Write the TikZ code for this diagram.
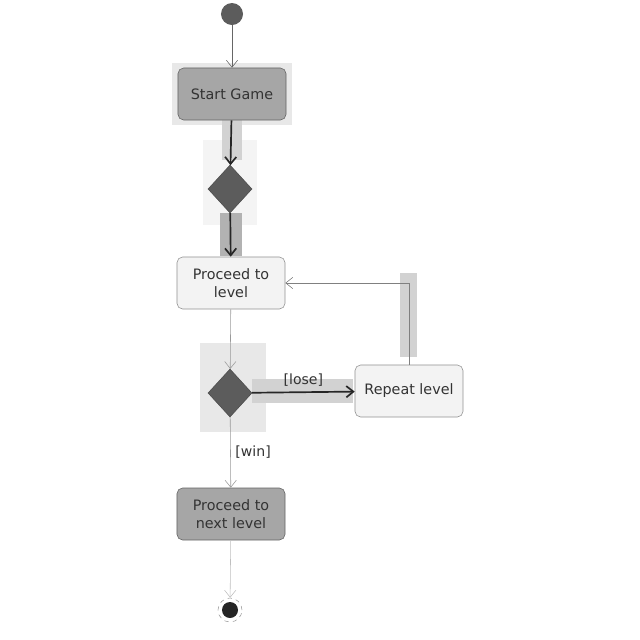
\documentclass[tikz,border=0pt]{standalone}
\usepackage{fontspec}
\setmainfont{DejaVu Sans}
\usetikzlibrary{shapes.geometric,arrows.meta}
\definecolor{actdark}{HTML}{A6A6A6}
\definecolor{actlight}{HTML}{F3F3F3}
\definecolor{decgray}{HTML}{5C5C5C}
\definecolor{hilite}{HTML}{D2D2D2}
\definecolor{hilitelt}{HTML}{E8E8E8}
\begin{document}
\begin{tikzpicture}[x=0.025cm, y=-0.025cm,
    action/.style={draw=#1!60!black, rounded corners=4pt, minimum width=2.7cm,
      minimum height=1.3cm, align=center, font=\fontsize{10.2}{12.5}\selectfont,
      text=black!80, fill=#1},
    decision/.style={diamond, draw=black!70, fill=decgray, inner sep=0pt,
      minimum width=1.1cm, minimum height=1.2cm},
    flow/.style={-{Straight Barb[length=5pt,width=8pt]}, draw=black!60},
    strong/.style={flow, draw=black!85, line width=1.2pt},
    guard/.style={font=\fontsize{10}{12}\selectfont, text=black!80}]
    \useasboundingbox (0, 0) rectangle (640, 640);
    % highlights
    \fill[hilitelt] (172, 63) rectangle (292, 125);
    \fill[hilitelt!50!white] (203, 140) rectangle (257, 225);
    \fill[hilite] (222, 120) rectangle (242, 160);
    \fill[hilite!85!black] (220, 213) rectangle (242, 256);
    \fill[hilitelt] (200, 343) rectangle (266, 432);
    \fill[hilite] (252, 379) rectangle (353, 403);
    \fill[hilite] (400, 273) rectangle (417, 357);
    % nodes
    \node[circle, fill=decgray, minimum size=0.55cm, inner sep=0pt] (init) at (232, 14) {};
    \node[action=actdark] (start) at (232, 94) {Start Game};
    \node[decision] (choose) at (230, 189) {};
    \node[action=actlight] (proceed) at (231, 283) {Proceed to\\level};
    \node[decision] (result) at (230, 393) {};
    \node[action=actlight] (repeat) at (409, 391) {Repeat level};
    \node[action=actdark] (next) at (231, 514) {Proceed to\\next level};
    \node[circle, draw=black!40, dashed, minimum size=0.6cm, inner sep=0pt] (final) at (230, 610) {};
    \fill[black!85] (final.center) circle (0.2cm);
    % connectors
    \draw[flow] (init) -- (start);
    \draw[strong] (start) -- (choose);
    \draw[strong] (choose) -- (proceed);
    \draw[flow, draw=black!40] (proceed) -- (result);
    \draw[strong] (result) -- (repeat) node[guard, midway, above] {[lose]};
    \draw[flow, draw=black!50] (repeat.north) |- (proceed.east);
    \draw[flow, draw=black!40] (result) -- (next) node[guard, midway, right] {[win]};
    \draw[flow, draw=black!25] (next) -- (final);
\end{tikzpicture}
\end{document}
